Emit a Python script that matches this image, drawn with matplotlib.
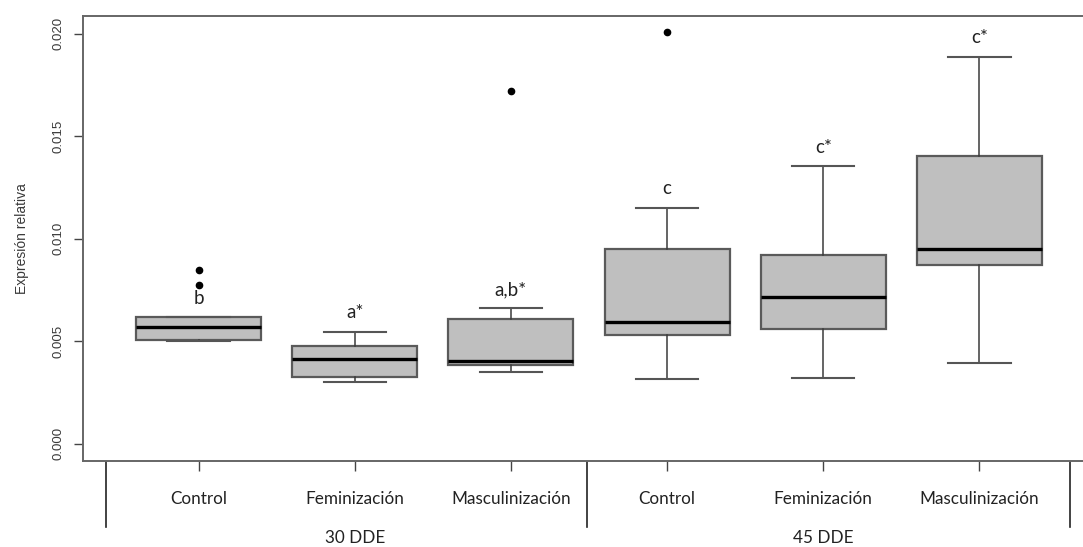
import matplotlib
matplotlib.use("Agg")
import matplotlib.pyplot as plt
from matplotlib.lines import Line2D
import matplotlib.transforms as mtransforms

# Treatments within each sampling age
categories = ["Control", "Feminización", "Masculinización",
              "Control", "Feminización", "Masculinización"]
groups = ["30 DDE", "45 DDE"]

# Five-number summaries of relative expression per treatment
whisker_low = [0.00502, 0.00302, 0.00348, 0.00315, 0.00323, 0.00393]
q1 = [0.00507, 0.00327, 0.00382, 0.00531, 0.00559, 0.00872]
medians = [0.00569, 0.00414, 0.00406, 0.00593, 0.00716, 0.00950]
q3 = [0.00617, 0.00479, 0.00611, 0.00950, 0.00920, 0.01405]
whisker_high = [0.00617, 0.00547, 0.00661, 0.01152, 0.01355, 0.01887]
outliers = [[0.00845, 0.00773], [], [0.0172], [0.02009], [], []]

# Significance letters above each box
letters = ["b", "a*", "a,b*", "c", "c*", "c*"]

W, H, DPI = 1083, 547, 100
fig = plt.figure(figsize=(W / DPI, H / DPI), dpi=DPI)
ax = fig.add_axes([83 / W, 1 - 461 / H, (1095 - 83) / W, (461 - 15.7) / H])

stats = []
for i, lab in enumerate(categories):
    stats.append(dict(label=lab, whislo=whisker_low[i], q1=q1[i], med=medians[i],
                      q3=q3[i], whishi=whisker_high[i], fliers=outliers[i]))

positions = list(range(1, len(categories) + 1))
ax.bxp(stats, positions=positions, widths=0.8, patch_artist=True,
       boxprops=dict(facecolor="#bfbfbf", edgecolor="#5a5a5a", linewidth=1.6),
       medianprops=dict(color="black", linewidth=2.4),
       whiskerprops=dict(color="#3a3a3a", linewidth=1.1),
       capprops=dict(color="#555555", linewidth=1.5),
       flierprops=dict(marker="o", markerfacecolor="black", markeredgecolor="black",
                       markersize=4.5),
       capwidths=0.4)

ax.set_xlim(0.26, 6.74)
ax.set_ylim(-0.000836, 0.02087)
ax.set_yticks([0.0, 0.005, 0.010, 0.015, 0.020])
ax.set_yticklabels(["0.000", "0.005", "0.010", "0.015", "0.020"],
                   rotation=90, va="center", fontsize=9.5, color="#3a3a3a",
                   family="Liberation Sans")
ax.tick_params(axis="y", length=6.5, width=1.0, color="#444444", pad=7)
ax.set_xticks(positions)
ax.set_xticklabels([])
ax.tick_params(axis="x", length=7, width=1.0, color="#444444")

for side in ["left", "top", "bottom"]:
    ax.spines[side].set_color("#666666")
    ax.spines[side].set_linewidth(1.4)
ax.spines["right"].set_visible(False)

ax.set_ylabel("Expresión relativa", fontsize=10, color="#3a3a3a",
              family="Liberation Sans", labelpad=17)

# Letters above the upper whiskers
for pos, top, txt in zip(positions, whisker_high, letters):
    ax.annotate(txt, xy=(pos, top), xytext=(0, 13.5), textcoords="offset points",
                ha="center", va="center", fontsize=13.5, color="#222222",
                family="Lato")

# Category and group labels below the axis
trans = mtransforms.blended_transform_factory(ax.transData, ax.transAxes)
for pos, lab in zip(positions, categories):
    ax.text(pos, -0.085, lab, transform=trans, ha="center", va="center",
            fontsize=12.3, color="#222222", family="Lato")
for center, lab in zip([2, 5], groups):
    ax.text(center, -0.173, lab, transform=trans, ha="center", va="center",
            fontsize=12.3, color="#222222", family="Lato")

# Separators between the two sampling ages
for xsep in [0.41, 3.49, 6.58]:
    ax.add_line(Line2D([xsep, xsep], [-0.002, -0.148], transform=trans,
                       color="#222222", linewidth=1.2, clip_on=False))

fig.savefig("out.png", dpi=DPI)
